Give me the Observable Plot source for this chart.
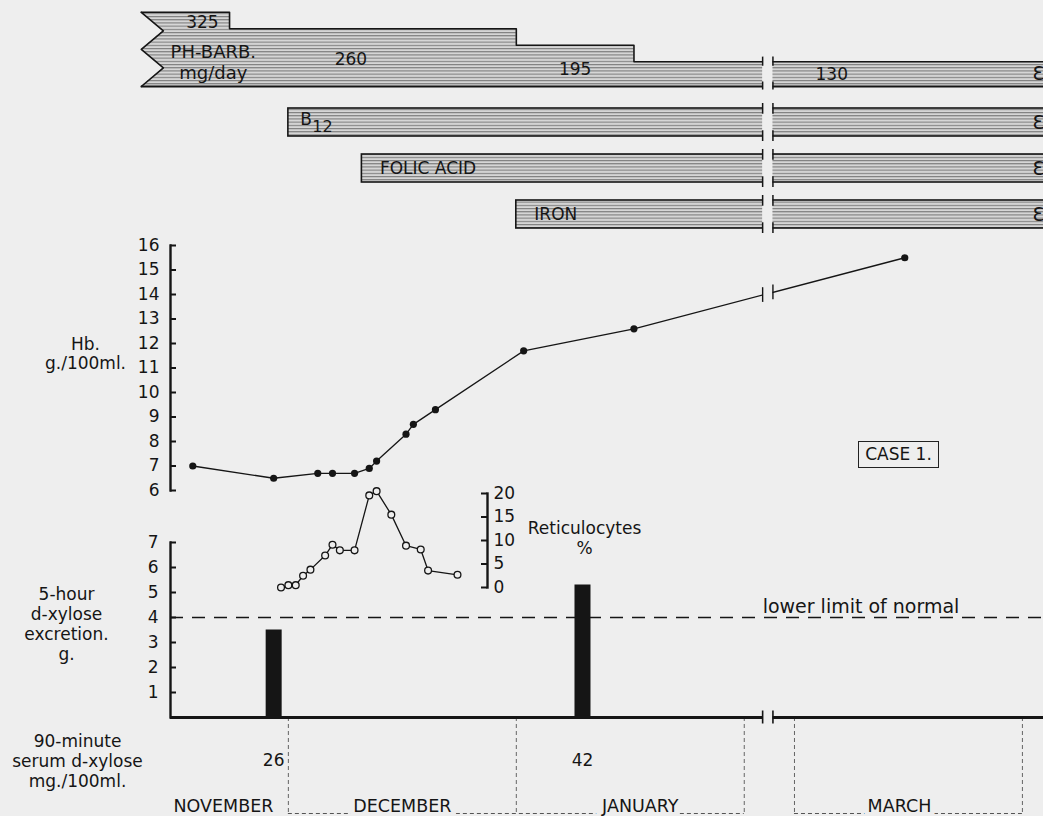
<!DOCTYPE html>
<html>
<head>
<meta charset="utf-8">
<script src="https://cdn.jsdelivr.net/npm/d3@7"></script>
<script src="https://cdn.jsdelivr.net/npm/@observablehq/plot@0.6"></script>
<style>
  body { margin: 0; background: #eeeeee; }
  #chart { position: relative; width: 1043px; height: 816px; overflow: hidden;
           font-family: "DejaVu Sans", sans-serif; color: #151515; }
  #chart svg { position: absolute; left: 0; top: 0; }
  #case { position: absolute; left: 858px; top: 441px; width: 79px; height: 25px;
          border: 1.6px solid #222; font-size: 17px; line-height: 25px; text-align: center; }
</style>
</head>
<body>
<svg width="0" height="0" style="position:absolute">
  <defs>
    <pattern id="hatch" patternUnits="userSpaceOnUse" width="8" height="3.2">
      <rect width="8" height="3.2" fill="#d6d6d6"></rect>
      <rect y="0" width="8" height="1.1" fill="#7c7c7c"></rect>
    </pattern>
  </defs>
</svg>
<div id="chart"><div id="case">CASE 1.</div></div>
<script>
// ---------------- data ----------------
// Haemoglobin, g/100 ml
const hbDates  = ["Nov 18","Nov 29","Dec 5","Dec 7","Dec 10","Dec 12","Dec 13","Dec 17","Dec 18","Dec 21","Jan 2","Jan 17","Mar 16"];
const hbValues = [7.0, 6.5, 6.7, 6.7, 6.7, 6.9, 7.2, 8.3, 8.7, 9.3, 11.7, 12.6, 15.5];
// Reticulocytes, %
const reticDates  = ["Nov 30","Dec 1","Dec 2","Dec 3","Dec 4","Dec 6","Dec 7","Dec 8","Dec 10","Dec 12","Dec 13","Dec 15","Dec 17","Dec 19","Dec 20","Dec 24"];
const reticValues = [0, 0.5, 0.5, 2.5, 3.8, 6.8, 9.1, 7.9, 7.9, 19.6, 20.5, 15.5, 8.9, 8.1, 3.6, 2.7];
// d-xylose tests
const xyloseDates     = ["Nov 29","Jan 10"];
const xyloseExcretion = [3.5, 5.3];   // 5-hour excretion, g
const serumXylose     = [26, 42];     // 90-minute serum, mg/100 ml
const xyloseNormal    = 4;
// Phenobarbitone dose steps, mg/day
const phbDates = ["Nov 11","Nov 23","Jan 1","Jan 17"];
const phbDoses = [325, 260, 195, 130];
// Other treatments
const treatments      = ["B12","FOLIC ACID","IRON"];
const treatmentStarts = ["Dec 1","Dec 11","Jan 1"];
// Axis ticks and labels
const hbTicks     = [6,7,8,9,10,11,12,13,14,15,16];
const reticTicks  = [0,5,10,15,20];
const xyloseTicks = [1,2,3,4,5,6,7];
const monthNames  = ["NOVEMBER","DECEMBER","JANUARY","MARCH"];

// ---------------- time axis (February is cut out by the break) ----------------
const BG = "#eeeeee", INK = "#151515";
const W = 1043, H = 816;
const K = 7.353;              // px per day
const T0 = -9.15;             // chart day at left edge
const T1 = T0 + W / K;        // chart day at right edge
const monthStart = {Nov: 0, Dec: 30, Jan: 61, Feb: 92, Mar: 98.83, Apr: 129.83};
const tOf = s => { const [m, d] = s.split(" "); return monthStart[m] + (+d) - 1; };
const BREAK = [94.5, 95.9];
const xScale = {type: "linear", domain: [T0, T1], range: [0, W], axis: null, label: null};
const baseStyle = {background: "transparent", overflow: "visible", fontFamily: "DejaVu Sans, sans-serif", fontSize: "17px", color: INK};
const chart = document.getElementById("chart");
const intFmt = d => String(d);

const hb    = hbDates.map((d, i) => ({t: tOf(d), v: hbValues[i]}));
const retic = reticDates.map((d, i) => ({t: tOf(d), v: reticValues[i]}));
const xyl   = xyloseDates.map((d, i) => ({t: tOf(d), v: xyloseExcretion[i], s: serumXylose[i]}));
const phb   = phbDates.map((d, i) => ({t: tOf(d), dose: phbDoses[i]}));
const treat = treatments.map((name, i) => ({name, t: tOf(treatmentStarts[i])}));

// ---------------- PH-BARB stepped band ----------------
const DOSE_BASE = 32, TAIL = 3;
const bodyStart = phb[0].t + TAIL;
const lastDose = phb[phb.length - 1].dose;
const stepLine = [...phb, {t: T1 + 3, dose: lastDose}];
const stepArea = [{t: bodyStart, dose: phb[0].dose}, ...phb.slice(1), {t: T1 + 3, dose: lastDose}];
const topDose = phb[0].dose;
const tail = [0, 1, 2, 3, 4].map(i => ({t: i % 2 ? bodyStart : phb[0].t, dose: topDose - (topDose - DOSE_BASE) * i / 4}));
const doseLabels = phb.map((p, i) => {
  const next = i < phb.length - 1 ? phb[i + 1].t : T1;
  const start = i === 0 ? bodyStart : p.t;
  return {t: (start + next) / 2, dose: i === 0 ? (p.dose + phb[1].dose) / 2 : (p.dose + DOSE_BASE) / 2, label: String(p.dose)};
});
const doseDx = [6, -22, 0, -7], doseDy = [2, 2, 4, 0];

chart.appendChild(Plot.plot({
  width: W, height: 92, marginTop: 0, marginBottom: 6, marginLeft: 0, marginRight: 0,
  style: baseStyle, x: xScale,
  y: {domain: [DOSE_BASE, 371.6], axis: null, label: null},
  marks: [
    Plot.areaY(stepArea, {x: "t", y1: DOSE_BASE, y2: "dose", curve: "step-after", fill: "url(#hatch)"}),
    Plot.areaX(tail, {y: "dose", x1: "t", x2: bodyStart + 0.3, fill: "url(#hatch)"}),
    Plot.line(stepLine, {x: "t", y: "dose", curve: "step-after", stroke: INK, strokeWidth: 1.6}),
    Plot.line(tail, {x: "t", y: "dose", stroke: INK, strokeWidth: 1.6}),
    Plot.ruleY([DOSE_BASE], {x1: phb[0].t, x2: T1 + 3, stroke: INK, strokeWidth: 1.8}),
    Plot.rect([0], {x1: BREAK[0], x2: BREAK[1], y1: DOSE_BASE - 15, y2: lastDose + 25, fill: BG}),
    Plot.ruleX(BREAK, {y1: lastDose - 18, y2: lastDose + 18, stroke: INK, strokeWidth: 1.5}),
    Plot.ruleX(BREAK, {y1: DOSE_BASE - 14, y2: DOSE_BASE + 18, stroke: INK, strokeWidth: 1.5}),
    ...doseLabels.map((d, i) => Plot.text([d], {x: "t", y: "dose", text: "label", dx: doseDx[i], dy: doseDy[i], fontSize: 17})),
    Plot.text(["PH-BARB.\nmg/day"], {x: phb[0].t, y: (260 + DOSE_BASE) / 2, dx: 72, dy: 4, textAnchor: "middle", lineHeight: 1.2, fontSize: 18}),
    Plot.text(["Ɛ"], {x: T1, y: (lastDose + DOSE_BASE) / 2, textAnchor: "end", dx: 1, fontSize: 20})
  ]
}));

// ---------------- B12 / folic acid / iron bars ----------------
const bw = (229 - 108) / (3 - 0.39) * (1 - 0.39);
const breakTicks = treat.flatMap(r => BREAK.map(b => ({name: r.name, t: b})));
const b12 = treat.filter(r => r.name === "B12");
chart.appendChild(Plot.plot({
  width: W, height: 240, marginTop: 108, marginBottom: 11, marginLeft: 0, marginRight: 0,
  style: baseStyle, x: xScale,
  y: {type: "band", domain: treatments, paddingInner: 0.39, paddingOuter: 0, axis: null, label: null},
  marks: [
    Plot.barX(treat, {y: "name", x1: "t", x2: T1 + 3, fill: "url(#hatch)", stroke: INK, strokeWidth: 1.6}),
    Plot.barX(treat, {y: "name", x1: BREAK[0], x2: BREAK[1], fill: BG, insetTop: -3, insetBottom: -3}),
    Plot.tickX(breakTicks, {x: "t", y: "name", insetTop: -5, insetBottom: bw - 6, stroke: INK, strokeWidth: 1.5}),
    Plot.tickX(breakTicks, {x: "t", y: "name", insetTop: bw - 6, insetBottom: -5, stroke: INK, strokeWidth: 1.5}),
    Plot.text(treat.filter(r => r.name !== "B12"), {x: "t", y: "name", text: "name", textAnchor: "start", dx: 18, fontSize: 17}),
    Plot.text(b12, {x: "t", y: "name", text: () => "B", textAnchor: "start", dx: 12, dy: -3, fontSize: 17}),
    Plot.text(b12, {x: "t", y: "name", text: () => "12", textAnchor: "start", dx: 24, dy: 4, fontSize: 16}),
    Plot.text(treat, {x: T1, y: "name", text: () => "Ɛ", textAnchor: "end", dx: 1, fontSize: 20})
  ]
}));

// ---------------- Haemoglobin ----------------
const a = hb[hb.length - 2], b = hb[hb.length - 1];
const hbAt = t => a.v + (b.v - a.v) * (t - a.t) / (b.t - a.t);
chart.appendChild(Plot.plot({
  width: W, height: H, marginTop: 245, marginBottom: 326, marginLeft: 170, marginRight: 0,
  style: baseStyle, x: xScale,
  y: {domain: [6, 16], axis: null, label: null},
  marks: [
    Plot.frame({anchor: "left", stroke: INK, strokeWidth: 2.4}),
    Plot.tickY(hbTicks, {y: d => d, insetRight: W - 170 - 6, stroke: INK, strokeWidth: 2}),
    Plot.axisY({ticks: hbTicks, tickSize: 0, tickPadding: 11, anchor: "left", label: null, tickFormat: intFmt, fontSize: 17}),
    Plot.line(hb, {x: "t", y: "v", stroke: INK, strokeWidth: 1.3}),
    Plot.rect([0], {x1: BREAK[0], x2: BREAK[1], y1: 13, y2: 15, fill: BG}),
    Plot.ruleX(BREAK, {y1: t => hbAt(t) - 0.3, y2: t => hbAt(t) + 0.3, stroke: INK, strokeWidth: 1.4}),
    Plot.dot(hb, {x: "t", y: "v", r: 3.6, fill: INK}),
    Plot.text(["Hb.\ng./100ml."], {frameAnchor: "left", y: 11.6, dx: -85, textAnchor: "middle", lineHeight: 1.15, fontSize: 17})
  ]
}));

// ---------------- Reticulocytes ----------------
chart.appendChild(Plot.plot({
  width: W, height: H, marginTop: 493, marginBottom: 229, marginLeft: 170, marginRight: W - 487,
  style: baseStyle, x: xScale,
  y: {domain: [0, 20], axis: null, label: null},
  marks: [
    Plot.frame({anchor: "right", stroke: INK, strokeWidth: 2.4}),
    Plot.tickY(reticTicks, {y: d => d, insetLeft: 487 - 170 - 6, stroke: INK, strokeWidth: 2}),
    Plot.axisY({ticks: reticTicks, tickSize: 0, tickPadding: 6, anchor: "right", label: null, tickFormat: intFmt, fontSize: 17}),
    Plot.line(retic, {x: "t", y: "v", stroke: INK, strokeWidth: 1.3}),
    Plot.dot(retic, {x: "t", y: "v", r: 3.4, fill: BG, stroke: INK, strokeWidth: 1.3}),
    Plot.text(["Reticulocytes\n%"], {frameAnchor: "right", y: 10.7, dx: 97, textAnchor: "middle", lineHeight: 1.2, fontSize: 17})
  ]
}));

// ---------------- d-xylose + month axis ----------------
const BOTTOM = -3.84;  // bottom line of the month boxes (in g units below zero)
const monthBounds = [monthStart.Dec, monthStart.Jan, monthStart.Feb, monthStart.Mar, monthStart.Apr];
const axisStartT = T0 + 170 / K;
const monthMids = [(axisStartT + monthStart.Dec) / 2, (monthStart.Dec + monthStart.Jan) / 2, (monthStart.Jan + monthStart.Feb) / 2, (monthStart.Mar + monthStart.Apr) / 2];
const months = monthNames.map((name, i) => ({name, t: monthMids[i]}));
const monthDx = [-6, 0, 10, -9];
const bottomSegs = [{x1: monthStart.Dec, x2: monthStart.Feb}, {x1: monthStart.Mar, x2: monthStart.Apr}];
chart.appendChild(Plot.plot({
  width: W, height: H, marginTop: 542, marginBottom: 99, marginLeft: 170, marginRight: 0,
  style: baseStyle, x: xScale,
  y: {domain: [0, 7], axis: null, label: null},
  marks: [
    Plot.ruleX(monthBounds, {y1: 0, y2: BOTTOM, stroke: "#555", strokeWidth: 0.9, strokeDasharray: "4,3"}),
    Plot.ruleY(bottomSegs, {y: BOTTOM, x1: "x1", x2: "x2", stroke: "#555", strokeWidth: 1, strokeDasharray: "4,3"}),
    ...months.map((m, i) => Plot.text([m], {x: "t", y: BOTTOM, text: "name", dx: monthDx[i], dy: -7, stroke: BG, strokeWidth: 10, fill: INK, fontSize: 17.5})),
    Plot.ruleY([xyloseNormal], {stroke: INK, strokeWidth: 1.4, strokeDasharray: "13,9"}),
    Plot.text(["lower limit of normal"], {x: BREAK[0], y: xyloseNormal, dy: -11, dx: 0, textAnchor: "start", fontSize: 19}),
    Plot.ruleX(xyl, {x: "t", y1: 0, y2: "v", stroke: INK, strokeWidth: 16}),
    Plot.frame({anchor: "left", stroke: INK, strokeWidth: 2.4}),
    Plot.tickY(xyloseTicks, {y: d => d, insetRight: W - 170 - 6, stroke: INK, strokeWidth: 2}),
    Plot.axisY({ticks: xyloseTicks, tickSize: 0, tickPadding: 12, anchor: "left", label: null, tickFormat: intFmt, fontSize: 17}),
    Plot.ruleY([0], {stroke: INK, strokeWidth: 2.8}),
    Plot.rect([0], {x1: BREAK[0], x2: BREAK[1], y1: -0.2, y2: 0.2, fill: BG}),
    Plot.ruleX(BREAK, {y1: -0.26, y2: 0.26, stroke: INK, strokeWidth: 1.6}),
    Plot.text(xyl, {x: "t", y: 0, text: "s", dy: 43, fontSize: 17}),
    Plot.text(["5-hour\nd-xylose\nexcretion.\ng."], {frameAnchor: "left", y: 3.75, dx: -104, textAnchor: "middle", lineHeight: 1.18, fontSize: 17}),
    Plot.text(["90-minute\nserum d-xylose\nmg./100ml."], {frameAnchor: "left", y: 0, dy: 43, dx: -93, textAnchor: "middle", lineHeight: 1.18, fontSize: 17})
  ]
}));
</script>
</body>
</html>
